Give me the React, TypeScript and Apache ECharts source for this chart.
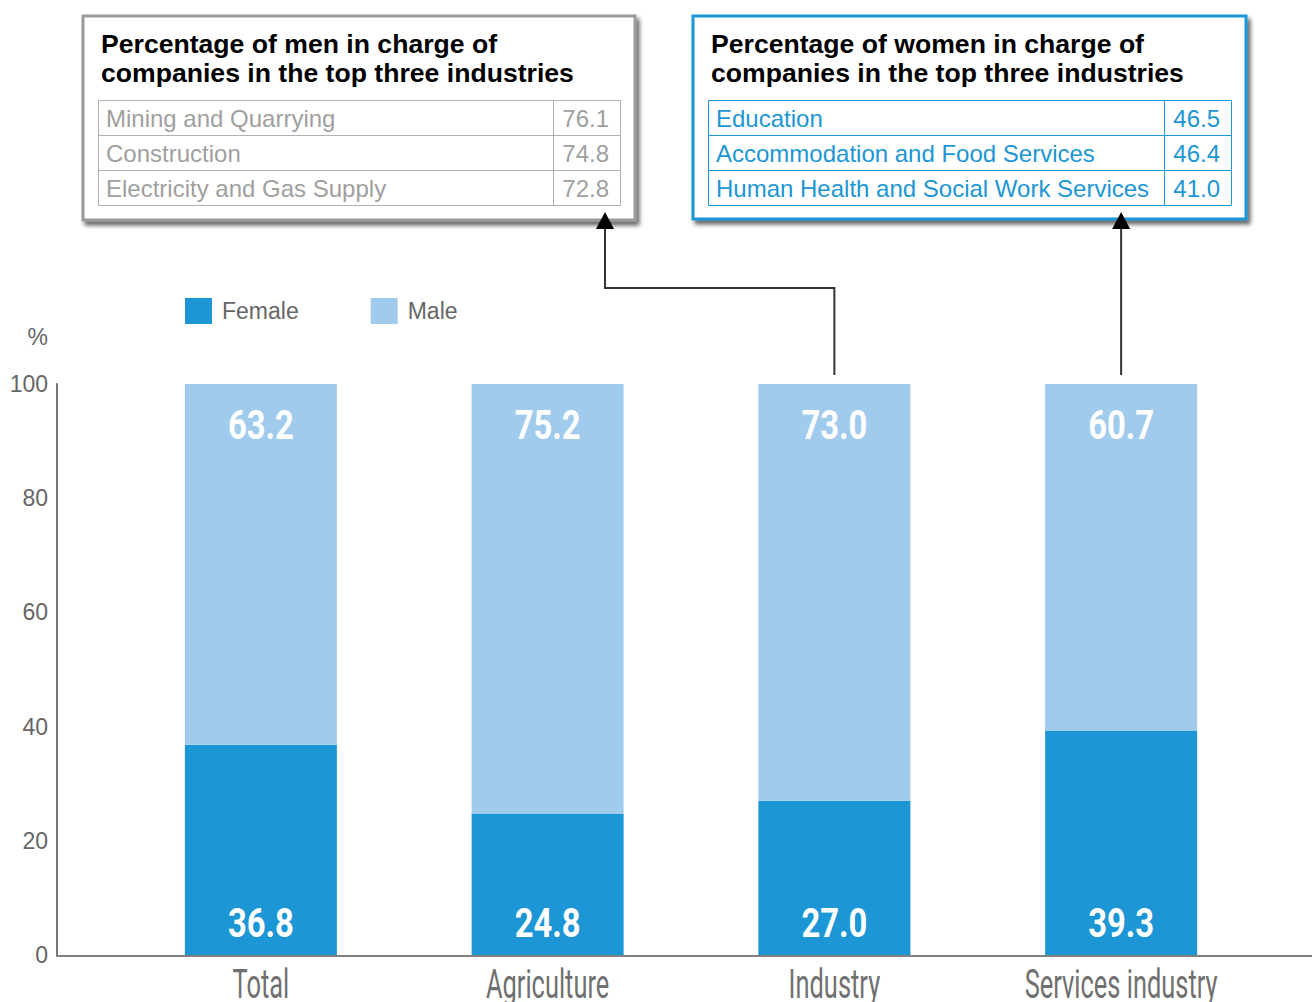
import React, { useEffect, useRef } from "react";
import * as echarts from "echarts";

// Sector shares of company heads, by sex (%)
const categories = ["Total", "Agriculture", "Industry", "Services industry"];
const femaleShare = [36.8, 24.8, 27.0, 39.3];
const maleShare = [63.2, 75.2, 73.0, 60.7];

// Top three industries by share of men / women in charge
const menIndustries = ["Mining and Quarrying", "Construction", "Electricity and Gas Supply"];
const menValues = ["76.1", "74.8", "72.8"];
const womenIndustries = ["Education", "Accommodation and Food Services", "Human Health and Social Work Services"];
const womenValues = ["46.5", "46.4", "41.0"];

const FEMALE = "#1c96d4";
const MALE = "#a1cbec";
const SANS = '"Liberation Sans", Arial, sans-serif';
const COND = 'Roboto, "Liberation Sans", sans-serif';

function tableBox(
  x: number,
  y: number,
  w: number,
  h: number,
  border: string,
  title: string,
  rows: string[],
  vals: string[],
  lineColor: string,
  textColor: string
) {
  const tx = x + 15;
  const tw = w - 30;
  const ty = y + 84;
  const rh = 35;
  const divX = tx + tw - 67;
  const els: any[] = [
    {
      type: "rect",
      shape: { x, y, width: w, height: h },
      style: {
        fill: "#fff",
        stroke: border,
        lineWidth: 3,
        shadowBlur: 4,
        shadowOffsetX: 3,
        shadowOffsetY: 4,
        shadowColor: "rgba(0,0,0,0.6)",
      },
    },
    {
      type: "text",
      style: {
        text: title,
        x: x + 18,
        y: y + 13,
        font: `bold 26.6px ${SANS}`,
        fill: "#000",
        lineHeight: 29,
      },
    },
    {
      type: "rect",
      shape: { x: tx + 0.5, y: ty + 0.5, width: tw, height: rh * 3 },
      style: { fill: "none", stroke: lineColor, lineWidth: 1 },
    },
    {
      type: "line",
      shape: { x1: divX + 0.5, y1: ty, x2: divX + 0.5, y2: ty + rh * 3 },
      style: { stroke: lineColor, lineWidth: 1 },
    },
  ];
  rows.forEach((r, i) => {
    if (i > 0) {
      els.push({
        type: "line",
        shape: { x1: tx, y1: ty + rh * i + 0.5, x2: tx + tw, y2: ty + rh * i + 0.5 },
        style: { stroke: lineColor, lineWidth: 1 },
      });
    }
    els.push({
      type: "text",
      style: {
        text: r,
        x: tx + 8,
        y: ty + rh * i + rh / 2 + 1,
        verticalAlign: "middle",
        font: `24px ${SANS}`,
        fill: textColor,
      },
    });
    els.push({
      type: "text",
      style: {
        text: vals[i],
        x: tx + tw - 11,
        y: ty + rh * i + rh / 2 + 1,
        align: "right",
        verticalAlign: "middle",
        font: `24px ${SANS}`,
        fill: textColor,
      },
    });
  });
  return els;
}

export default function App() {
  const ref = useRef<HTMLDivElement>(null);

  useEffect(() => {
    if (!ref.current) return;
    const chart = echarts.init(ref.current, null, { renderer: "svg" });
    chart.setOption({
      animation: false,
      backgroundColor: "#fff",
      legend: {
        left: 185,
        top: 298,
        padding: 0,
        itemWidth: 27,
        itemHeight: 26,
        itemGap: 72,
        icon: "rect",
        textStyle: { fontSize: 23, color: "#666", fontFamily: SANS, padding: [0, 0, 0, 5] },
        data: ["Female", "Male"],
      },
      grid: { left: 117.5, right: 47.5, top: 384, bottom: 47, containLabel: false },
      xAxis: {
        type: "category",
        data: categories,
        axisLine: { show: false },
        axisTick: { show: false },
        axisLabel: { show: false },
      },
      yAxis: {
        type: "value",
        min: 0,
        max: 100,
        interval: 20,
        offset: 60.5,
        name: "%",
        nameLocation: "end",
        nameGap: 36,
        nameTextStyle: { fontSize: 23, color: "#666", fontFamily: SANS, align: "right", padding: [0, 9, 0, 0] },
        axisLine: { show: true, lineStyle: { color: "#777", width: 2 } },
        axisTick: { show: false },
        splitLine: { show: false },
        axisLabel: { fontSize: 23, color: "#666", fontFamily: SANS, margin: 9, padding: [0, 0, 3, 0] },
      },
      series: [
        {
          name: "Female",
          type: "bar",
          stack: "share",
          barWidth: 152,
          data: femaleShare,
          itemStyle: { color: FEMALE },
        },
        {
          name: "Male",
          type: "bar",
          stack: "share",
          barWidth: 152,
          data: maleShare,
          itemStyle: { color: MALE },
        },
      ],
    });

    // Annotation layer: condensed labels, axis baseline, callout boxes and connector arrows
    const xs = categories.map((c) => chart.convertToPixel({ xAxisIndex: 0 }, c) as number);
    const yTop = chart.convertToPixel({ yAxisIndex: 0 }, 100) as number;
    const yZero = chart.convertToPixel({ yAxisIndex: 0 }, 0) as number;
    const xIndustry = xs[2];
    const xServices = xs[3];
    const leftArrowX = 605;
    const elbowY = 288;
    const headTip = 212;
    const headBase = 229;

    const valueText = (txt: string, cx: number, cy: number) => ({
      type: "text",
      x: cx,
      y: cy,
      scaleX: 0.82,
      style: {
        text: txt,
        x: 0,
        y: 0,
        align: "center",
        verticalAlign: "middle",
        font: `bold 40px ${COND}`,
        fill: "#fff",
      },
      z: 10,
    });

    const labels: any[] = [];
    categories.forEach((c, i) => {
      labels.push(valueText(maleShare[i].toFixed(1), xs[i], yTop + 41.5));
      labels.push(valueText(femaleShare[i].toFixed(1), xs[i], yZero - 31.5));
      labels.push({
        type: "text",
        x: xs[i],
        y: 963,
        scaleX: 0.62,
        style: {
          text: c,
          x: 0,
          y: 0,
          align: "center",
          verticalAlign: "top",
          font: `41px ${COND}`,
          fill: "#707070",
        },
      });
    });

    chart.setOption({
      graphic: [
        {
          type: "line",
          shape: { x1: 56, y1: yZero + 1, x2: 1312, y2: yZero + 1 },
          style: { stroke: "#808080", lineWidth: 2 },
        },
        ...labels,
        ...tableBox(
          83,
          16,
          552,
          204,
          "#9a9a9a",
          "Percentage of men in charge of\ncompanies in the top three industries",
          menIndustries,
          menValues,
          "#b0b0b0",
          "#a0a0a0"
        ),
        ...tableBox(
          693,
          16,
          553,
          203,
          "#1c96d4",
          "Percentage of women in charge of\ncompanies in the top three industries",
          womenIndustries,
          womenValues,
          "#1c96d4",
          "#1c96d4"
        ),
        {
          type: "polyline",
          shape: {
            points: [
              [xIndustry, yTop - 9],
              [xIndustry, elbowY],
              [leftArrowX, elbowY],
              [leftArrowX, headBase],
            ],
          },
          style: { stroke: "#333", lineWidth: 2, fill: "none" },
        },
        {
          type: "polygon",
          shape: { points: [[leftArrowX, headTip], [leftArrowX - 9, headBase], [leftArrowX + 9, headBase]] },
          style: { fill: "#000" },
        },
        {
          type: "line",
          shape: { x1: xServices, y1: yTop - 9, x2: xServices, y2: headBase },
          style: { stroke: "#333", lineWidth: 2 },
        },
        {
          type: "polygon",
          shape: { points: [[xServices, headTip], [xServices - 9, headBase], [xServices + 9, headBase]] },
          style: { fill: "#000" },
        },
      ],
    });

    return () => chart.dispose();
  }, []);

  return (
    <div
      ref={ref}
      style={{ position: "fixed", left: 0, top: 0, width: 1312, height: 1002 }}
    />
  );
}
